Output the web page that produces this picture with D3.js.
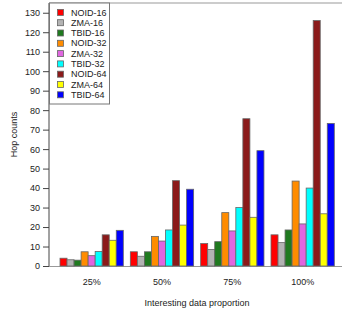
<!DOCTYPE html>
<html>
<head>
<meta charset="utf-8">
<script src="https://cdn.jsdelivr.net/npm/d3@7"></script>
<style>
  body { margin: 0; background: #fff; }
  text { font-family: "Liberation Sans", Arial, sans-serif; fill: #222; }
</style>
</head>
<body>
<div id="chart"></div>
<script>
// Data
var groups = ["25%", "50%", "75%", "100%"];
var seriesNames = ["NOID-16", "ZMA-16", "TBID-16", "NOID-32", "ZMA-32", "TBID-32", "NOID-64", "ZMA-64", "TBID-64"];
var seriesColors = ["#ff0000", "#b3b3b3", "#1f7a1f", "#ff8c00", "#e066e0", "#00ffff", "#8b1a1a", "#ffff00", "#0000ff"];
var values = [
    [4, 7.3, 11.5, 16],      // NOID-16
    [3.2, 5, 8.5, 12],       // ZMA-16
    [3, 7.3, 12.5, 18.5],    // TBID-16
    [7.3, 15.2, 27.4, 43.6], // NOID-32
    [5.3, 12.8, 18, 21.6],   // ZMA-32
    [7.5, 18.5, 30, 40],     // TBID-32
    [16, 43.8, 75.6, 126],   // NOID-64
    [13.2, 21, 25, 26.8],    // ZMA-64
    [18.3, 39.4, 59.2, 73.2] // TBID-64
];
var yTicks = [0, 10, 20, 30, 40, 50, 60, 70, 80, 90, 100, 110, 120, 130];

var width = 342, height = 315;
var plot = { left: 49, right: 345, top: 3, bottom: 266 };

var svg = d3.select("#chart").append("svg")
    .attr("width", width)
    .attr("height", height);

// scales
var x0 = d3.scaleBand()
    .domain(groups)
    .range([60, 334.3])
    .paddingInner(0.1)
    .paddingOuter(0);
var x1 = d3.scaleBand()
    .domain(seriesNames)
    .range([0, x0.bandwidth()]);
var y = d3.scaleLinear()
    .domain([0, 135])
    .range([plot.bottom, plot.top]);
var c = d3.scaleOrdinal().domain(seriesNames).range(seriesColors);

// flatten for bars
var cells = [];
seriesNames.forEach(function(s, i) {
    groups.forEach(function(g, j) {
        cells.push({ series: s, group: g, value: values[i][j] });
    });
});

// top border and zero line
svg.append("line")
    .attr("x1", plot.left).attr("x2", width)
    .attr("y1", y(135)).attr("y2", y(135))
    .style("stroke", "#999").style("stroke-width", 1);
svg.append("line")
    .attr("x1", plot.left).attr("x2", width)
    .attr("y1", y(0) + 0.5).attr("y2", y(0) + 0.5)
    .style("stroke", "#999").style("stroke-width", 1);

// bars
svg.append("g")
    .selectAll("rect")
    .data(cells)
    .enter()
    .append("rect")
    .attr("x", function(d) { return x0(d.group) + x1(d.series); })
    .attr("y", function(d) { return y(d.value); })
    .attr("width", x1.bandwidth())
    .attr("height", function(d) { return y(0) - y(d.value); })
    .style("fill", function(d) { return c(d.series); })
    .style("stroke", "#666")
    .style("stroke-width", 0.8);

// y axis
var yAxis = svg.append("g")
    .attr("transform", "translate(" + plot.left + ",0)")
    .call(d3.axisLeft(y).tickValues(yTicks).tickSize(6).tickPadding(3));
yAxis.select(".domain")
    .attr("d", "M0," + y(0) + "V" + y(135))
    .style("stroke", "#444");
yAxis.selectAll(".tick line").style("stroke", "#444");
yAxis.selectAll("text")
    .style("font-family", "Liberation Sans, Arial, sans-serif")
    .style("font-size", "9px")
    .style("fill", "#222");

// group labels
svg.append("g")
    .selectAll("text")
    .data(groups)
    .enter()
    .append("text")
    .attr("x", function(d) { return x0(d) + x0.bandwidth() / 2; })
    .attr("y", 285)
    .attr("text-anchor", "middle")
    .style("font-size", "9px")
    .text(function(d) { return d; });

// axis titles
svg.append("text")
    .attr("x", (plot.left + plot.right) / 2)
    .attr("y", 306)
    .attr("text-anchor", "middle")
    .style("font-size", "9px")
    .text("Interesting data proportion");

svg.append("text")
    .attr("transform", "translate(17," + ((plot.top + plot.bottom) / 2) + ") rotate(-90)")
    .attr("text-anchor", "middle")
    .style("font-size", "9px")
    .text("Hop counts");

// legend
var legend = svg.append("g");
legend.append("rect")
    .attr("x", plot.left + 0.5)
    .attr("y", y(135))
    .attr("width", 60)
    .attr("height", 101)
    .style("fill", "#fff")
    .style("stroke", "#777");

var item = legend.selectAll(".item")
    .data(seriesNames)
    .enter().append("g")
    .attr("class", "item")
    .attr("transform", function(d, i) { return "translate(0," + (12.4 + i * 10.3) + ")"; });

item.append("rect")
    .attr("x", 57.5)
    .attr("y", -3)
    .attr("width", 6)
    .attr("height", 6)
    .style("fill", function(d) { return c(d); })
    .style("stroke", "#666")
    .style("stroke-width", 0.8);

item.append("text")
    .attr("x", 71)
    .attr("dy", "0.35em")
    .style("font-size", "9px")
    .text(function(d) { return d; });
</script>
</body>
</html>
